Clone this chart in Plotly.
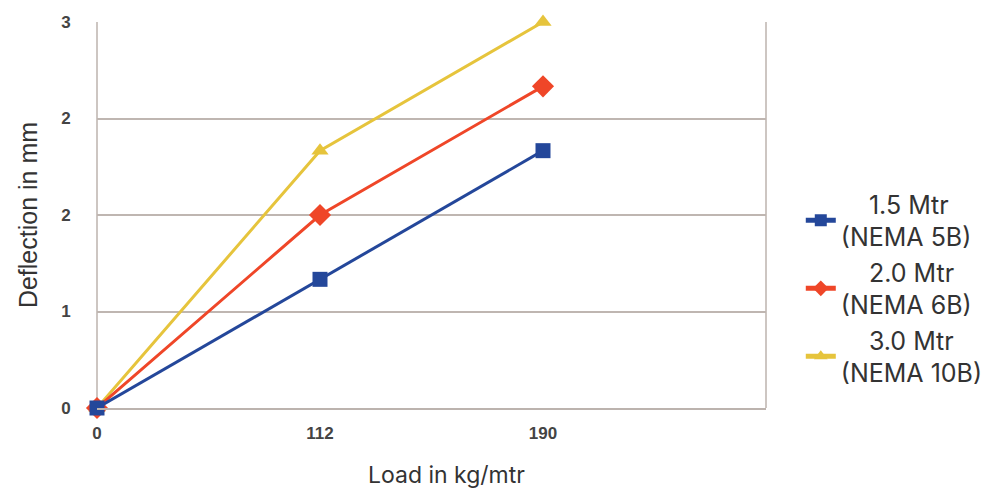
import plotly.graph_objects as go

categories = ["0", "112", "190"]
s15 = [0, 1.0, 2.0]
s20 = [0, 1.5, 2.5]
s30 = [0, 2.0, 3.0]
y_tickvals = [0, 0.75, 1.5, 2.25, 3]
y_ticktext = ["0", "1", "2", "2", "3"]

colors = ["#24479a", "#ef4628", "#e6c43c"]
symbols = ["square", "diamond", "triangle-up"]
sizes = [15, 17, 15]
pad = "\u00a0" * 4
legend_labels = [pad + "1.5 Mtr<br>(NEMA 5B)", pad + "2.0 Mtr<br>(NEMA 6B)", pad + "3.0 Mtr<br>(NEMA 10B)"]

xidx = list(range(len(categories)))
fig = go.Figure()
traces = list(zip([s15, s20, s30], legend_labels, colors, symbols, sizes, [1, 2, 3]))
for vals, name, c, s, sz, rank in reversed(traces):
    fig.add_trace(go.Scatter(
        x=xidx, y=vals, name=name, mode="lines+markers",
        line=dict(color=c, width=3),
        marker=dict(symbol=s, size=sz, color=c),
        cliponaxis=False, legendrank=rank,
    ))

fig.update_layout(
    width=984, height=484,
    margin=dict(l=89, r=226, t=14, b=84, autoexpand=False),
    paper_bgcolor="white", plot_bgcolor="white",
    showlegend=True,
    legend=dict(x=1.052, y=0.31, xanchor="left", yanchor="middle",
                font=dict(family="Inter, Lato, sans-serif", size=25, color="#333333"),
                itemsizing="constant", itemwidth=30, tracegroupgap=2),
    xaxis=dict(
        range=[0, 3], tickvals=xidx, ticktext=categories,
        showgrid=False, zeroline=False,
        showline=True, linecolor="#bcb3ae", linewidth=1.5, mirror=False,
        tickfont=dict(family="Liberation Sans, Arial", size=17, color="#444444", weight="bold"),
        ticks="outside", ticklen=9, tickcolor="rgba(0,0,0,0)",
    ),
    yaxis=dict(
        range=[0, 3], tickvals=y_tickvals, ticktext=y_ticktext,
        showgrid=True, gridcolor="#bfb6b1", gridwidth=1.5, zeroline=False,
        showline=False,
        tickfont=dict(family="Liberation Sans, Arial", size=17, color="#444444", weight="bold"),
        ticks="outside", ticklen=22, tickcolor="rgba(0,0,0,0)",
        title=dict(text="Deflection in mm", font=dict(family="Liberation Sans, Arial", size=25, color="#333333"), standoff=16),
    ),
    annotations=[dict(text="Load in kg/mtr", xref="paper", yref="paper",
                      x=(446 - 97) / 669, y=-(475 - 408) / 386, xanchor="center", yanchor="middle",
                      showarrow=False, font=dict(family="Inter, Lato, sans-serif", size=23, color="#333333"))],
)
fig.add_shape(type="line", xref="paper", yref="paper", x0=0, x1=0, y0=0, y1=1, line=dict(color="#bcb3ae", width=1.5), layer="below")
fig.add_shape(type="line", xref="paper", yref="paper", x0=1, x1=1, y0=0, y1=1, line=dict(color="#bcb3ae", width=1.5), layer="below")

fig.write_html("out.html")
